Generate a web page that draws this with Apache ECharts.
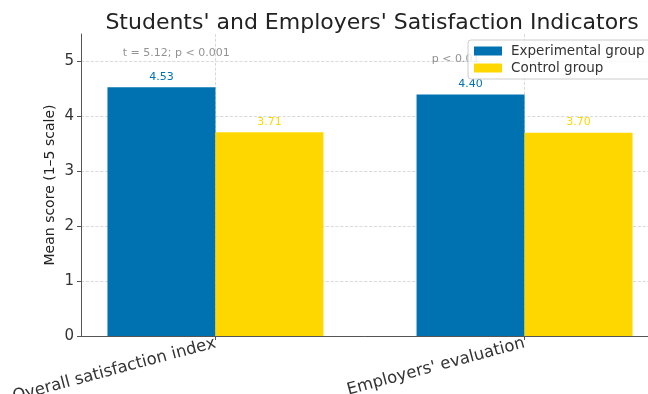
<!DOCTYPE html>
<html>
<head>
<meta charset="utf-8">
<script src="https://cdn.jsdelivr.net/npm/echarts@6/dist/echarts.min.js"></script>
<style>
  html, body { margin: 0; padding: 0; background: #fff; }
  #main { width: 648px; height: 394px; }
</style>
</head>
<body>
<div id="main"></div>
<script>
// data
var categories = ['Overall satisfaction index', "Employers' evaluation"];
var categoryPos = [0, 1];
var experimental = [4.53, 4.40];
var control = [3.71, 3.70];
var yTicks = [0, 1, 2, 3, 4, 5];
var annotText = ['t = 5.12; p < 0.001', 'p < 0.01'];
var annotX = [-0.3, 0.7];
var annotY = [5.15, 5.04];

var font = 'DejaVu Sans';
var blue = '#0072B2';
var gold = '#FFD700';

function pairs(xs, ys) {
  var out = [];
  for (var i = 0; i < xs.length; i++) {
    out.push([xs[i], ys[i]]);
  }
  return out;
}

var chart = echarts.init(document.getElementById('main'), null, { renderer: 'canvas' });

var option = {
  animation: false,
  backgroundColor: '#fff',
  textStyle: { fontFamily: font },
  title: {
    text: "Students' and Employers' Satisfaction Indicators",
    left: 367,
    textAlign: 'center',
    top: 7,
    textStyle: { fontFamily: font, fontSize: 22, fontWeight: 'normal', color: '#222' }
  },
  legend: {
    orient: 'vertical',
    left: 468,
    top: 40,
    padding: [4, 8, 4, 6],
    itemWidth: 28,
    itemHeight: 9,
    itemGap: 3,
    icon: 'rect',
    backgroundColor: 'rgba(255,255,255,0.8)',
    borderColor: '#ccc',
    borderWidth: 1,
    borderRadius: 3,
    textStyle: { fontFamily: font, fontSize: 13.5, color: '#333', padding: [0, 0, 0, 4] },
    data: ['Experimental group', 'Control group'],
    z: 10
  },
  grid: { left: 81, top: 34, width: 578, height: 302, outerBoundsMode: 'none', containLabel: false },
  xAxis: {
    type: 'value',
    min: -0.435,
    max: 1.435,
    axisLine: { show: true, onZero: false, lineStyle: { color: '#555', width: 1 } },
    axisTick: { show: true, customValues: categoryPos, length: 4, lineStyle: { color: '#555' } },
    axisLabel: {
      customValues: categoryPos,
      rotate: 15,
      margin: 7,
      fontFamily: font,
      fontSize: 16.5,
      color: '#333',
      formatter: function (v) { return categories[Math.round(v)]; }
    },
    splitLine: { show: true, lineStyle: { type: 'dashed', color: '#d0d0d0', width: 0.8 } }
  },
  yAxis: {
    type: 'value',
    min: 0,
    max: 5.5,
    name: 'Mean score (1\u20135 scale)',
    nameLocation: 'middle',
    nameGap: 24,
    nameMoveOverlap: false,
    nameTextStyle: { fontFamily: font, fontSize: 14, color: '#222' },
    axisLine: { show: true, onZero: false, lineStyle: { color: '#555', width: 1 } },
    axisTick: { show: true, customValues: yTicks, length: 4, lineStyle: { color: '#555' } },
    axisLabel: { customValues: yTicks, fontFamily: font, fontSize: 15, color: '#333', margin: 7 },
    splitLine: { show: true, lineStyle: { type: 'dashed', color: '#d0d0d0', width: 0.8 } }
  },
  series: [
    {
      name: 'Experimental group',
      type: 'bar',
      barWidth: 108,
      barGap: '0%',
      itemStyle: { color: blue },
      label: {
        show: true, position: 'top', distance: 5,
        fontFamily: font, fontSize: 11, color: blue,
        formatter: function (p) { return p.value[1].toFixed(2); }
      },
      data: pairs(categoryPos, experimental)
    },
    {
      name: 'Control group',
      type: 'bar',
      barWidth: 108,
      barGap: '0%',
      itemStyle: { color: gold },
      label: {
        show: true, position: 'top', distance: 5,
        fontFamily: font, fontSize: 11, color: gold,
        formatter: function (p) { return p.value[1].toFixed(2); }
      },
      data: pairs(categoryPos, control)
    },
    {
      name: 'annotations',
      type: 'scatter',
      symbolSize: 0,
      silent: true,
      label: {
        show: true, position: 'right', distance: 0,
        fontFamily: font, fontSize: 11, color: '#777',
        formatter: function (p) { return annotText[p.dataIndex]; }
      },
      data: pairs(annotX, annotY)
    }
  ]
};

chart.setOption(option);
</script>
</body>
</html>
